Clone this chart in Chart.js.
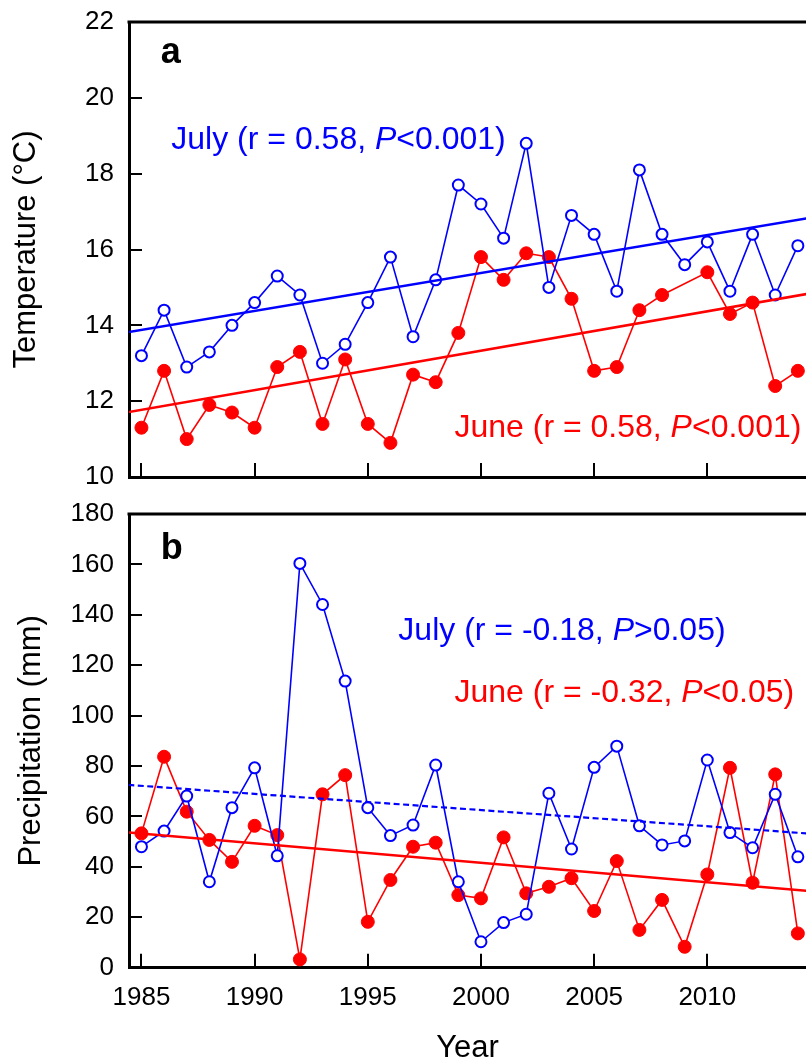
<!DOCTYPE html>
<html>
<head>
<meta charset="utf-8">
<script src="https://cdn.jsdelivr.net/npm/chart.js@4.4.0/dist/chart.umd.min.js"></script>
<style>
  html, body { margin: 0; padding: 0; background: #fff; }
  #wrap { position: relative; width: 806px; height: 1061px; overflow: hidden; }
  #chartA { position: absolute; left: 0; top: 0; }
  #chartB { position: absolute; left: 0; top: 490px; }
</style>
</head>
<body>
<div id="wrap">
  <canvas id="chartA" width="806" height="490"></canvas>
  <canvas id="chartB" width="806" height="571"></canvas>
</div>
<script>
// data
const years = [1985, 1986, 1987, 1988, 1989, 1990, 1991, 1992, 1993, 1994,
               1995, 1996, 1997, 1998, 1999, 2000, 2001, 2002, 2003, 2004,
               2005, 2006, 2007, 2008, 2009, 2010, 2011, 2012, 2013, 2014];

const tempJuly = [13.2, 14.4, 12.9, 13.3, 14.0, 14.6, 15.3, 14.8, 13.0, 13.5,
                  14.6, 15.8, 13.7, 15.2, 17.7, 17.2, 16.3, 18.8, 15.0, 16.9,
                  16.4, 14.9, 18.1, 16.4, 15.6, 16.2, 14.9, 16.4, 14.8, 16.1];
const tempJune = [11.3, 12.8, 11.0, 11.9, 11.7, 11.3, 12.9, 13.3, 11.4, 13.1,
                  11.4, 10.9, 12.7, 12.5, 13.8, 15.8, 15.2, 15.9, 15.8, 14.7,
                  12.8, 12.9, 14.4, 14.8, null, 15.4, 14.3, 14.6, 12.4, 12.8];

const precJuly = [48.0, 54.2, 68.1, 34.1, 63.5, 79.3, 44.4, 160.4, 144.1, 113.7,
                  63.5, 52.4, 56.6, 80.4, 34.1, 10.3, 17.9, 21.2, 69.2, 47.1,
                  79.5, 87.9, 56.3, 48.7, 50.3, 82.4, 53.6, 47.6, 68.8, 44.0];
const precJune = [53.3, 83.7, 61.9, 50.7, 42.0, 56.3, 52.6, 3.3, 68.8, 76.4,
                  18.2, 34.8, 48.0, 49.6, 28.8, 27.5, 51.7, 29.5, 32.1, 35.5,
                  22.5, 42.3, 15.0, 26.9, 8.3, 37.0, 79.3, 33.7, 76.7, 13.6];

// fitted trend lines (end points)
const trendYears = [1984, 2015];
const tempJulyTrend = [13.78, 16.88];
const tempJuneTrend = [11.67, 14.89];
const precJulyTrend = [72.8, 52.9];
const precJuneTrend = [54.0, 30.0];

// axis ticks
const yearTicks = [1985, 1990, 1995, 2000, 2005, 2010];
const tempTicks = [10, 12, 14, 16, 18, 20, 22];
const precTicks = [0, 20, 40, 60, 80, 100, 120, 140, 160, 180];

const BLUE = '#0000ff';
const RED = '#ff0000';
const FONT = '"Liberation Sans", Arial, Helvetica, sans-serif';

const pts = (xs, ys) => xs.map((x, i) => ({ x: x, y: ys[i] }));

// inward tick marks, top frame line and the text labels
function makeDecor(labels) {
    return {
        id: 'decor',
        beforeDatasetsDraw(chart) {
            const { ctx, chartArea: a, scales: { x, y } } = chart;
            ctx.save();
            ctx.strokeStyle = '#000';
            ctx.lineWidth = 2;
            ctx.beginPath();
            x.ticks.forEach(t => {
                const px = Math.round(x.getPixelForValue(t.value));
                ctx.moveTo(px, a.bottom);
                ctx.lineTo(px, a.bottom - 14);
            });
            y.ticks.forEach(t => {
                if (t.value === y.min || t.value === y.max) return;
                const py = Math.round(y.getPixelForValue(t.value));
                ctx.moveTo(a.left, py);
                ctx.lineTo(a.left + 13, py);
            });
            ctx.stroke();
            ctx.lineWidth = 3;
            ctx.beginPath();
            ctx.moveTo(a.left - 1.5, a.top);
            ctx.lineTo(a.right, a.top);
            ctx.stroke();
            ctx.restore();
        },
        afterDatasetsDraw(chart) {
            const { ctx, scales: { x, y } } = chart;
            ctx.save();
            ctx.textBaseline = 'alphabetic';
            ctx.textAlign = 'left';
            labels.forEach(l => {
                let px = x.getPixelForValue(l.x);
                const py = y.getPixelForValue(l.y);
                ctx.fillStyle = l.color;
                l.parts.forEach(p => {
                    ctx.font = (p[1] ? 'italic ' : '') + (l.bold ? 'bold ' : '') + l.size + 'px ' + FONT;
                    ctx.fillText(p[0], px, py);
                    px += ctx.measureText(p[0]).width;
                });
            });
            ctx.restore();
        }
    };
}

function axisX(showLabels, height) {
    return {
        type: 'linear',
        min: 1984.45,
        max: 2014.36,
        afterBuildTicks: s => { s.ticks = yearTicks.map(v => ({ value: v })); },
        afterFit: s => {
            s.height = height;
            s.paddingLeft = 0;
            s.paddingRight = 0;
        },
        grid: { display: true, drawOnChartArea: false, drawTicks: false },
        border: { display: true, color: '#000', width: 3 },
        ticks: {
            display: showLabels,
            color: '#000',
            padding: 15,
            maxRotation: 0,
            font: { family: FONT, size: 26 },
            callback: v => String(v)
        },
        title: {
            display: showLabels,
            text: 'Year',
            color: '#000',
            font: { family: FONT, size: 31, lineHeight: 1 },
            padding: { top: 0, bottom: -3 }
        }
    };
}

function axisY(min, max, tickList, title, titlePad) {
    return {
        type: 'linear',
        min: min,
        max: max,
        afterBuildTicks: s => { s.ticks = tickList.map(v => ({ value: v })); },
        afterFit: s => {
            s.width = 129;
            s.paddingTop = 0;
            s.paddingBottom = 0;
        },
        grid: { display: true, drawOnChartArea: false, drawTicks: false },
        border: { display: true, color: '#000', width: 3 },
        ticks: {
            color: '#000',
            padding: 15,
            font: { family: FONT, size: 26 },
            callback: v => String(v)
        },
        title: {
            display: true,
            text: title,
            color: '#000',
            font: { family: FONT, size: 31 },
            padding: { top: titlePad, bottom: 0 }
        }
    };
}

function seriesSets(julyVals, juneVals, julyTrend, juneTrend, julyDash) {
    return [
        {
            data: pts(trendYears, julyTrend),
            borderColor: BLUE, borderWidth: julyDash ? 2.2 : 2.5,
            borderDash: julyDash ? [6, 3.5] : [],
            pointRadius: 0, clip: 0
        },
        {
            data: pts(trendYears, juneTrend),
            borderColor: RED, borderWidth: 2.5,
            pointRadius: 0, clip: 0
        },
        {
            label: 'July',
            data: pts(years, julyVals),
            borderColor: BLUE, borderWidth: 1.6,
            pointRadius: 5.5, pointBorderWidth: 2,
            pointBorderColor: BLUE, pointBackgroundColor: '#fff',
            spanGaps: true
        },
        {
            label: 'June',
            data: pts(years, juneVals),
            borderColor: RED, borderWidth: 1.6,
            pointRadius: 6.5, pointBorderWidth: 1,
            pointBorderColor: RED, pointBackgroundColor: RED,
            spanGaps: true
        }
    ];
}

const commonOpts = {
    responsive: false,
    animation: false,
    devicePixelRatio: 1,
    plugins: { legend: { display: false }, tooltip: { enabled: false } },
    elements: { line: { tension: 0 } }
};

new Chart(document.getElementById('chartA'), {
    type: 'line',
    data: { datasets: seriesSets(tempJuly, tempJune, tempJulyTrend, tempJuneTrend, false) },
    options: Object.assign({}, commonOpts, {
        layout: { autoPadding: false, padding: { top: 22, right: 0, bottom: 0, left: 0 } },
        scales: {
            x: axisX(false, 13),
            y: axisY(10, 22, tempTicks, 'Temperature (°C)', 8)
        }
    }),
    plugins: [makeDecor([
        { x: 1985.85, y: 20.92, color: '#000', size: 36, bold: true, parts: [['a', false]] },
        { x: 1986.32, y: 18.64, color: BLUE, size: 32, parts: [['July (r = 0.58, ', false], ['P', true], ['<0.001)', false]] },
        { x: 1998.83, y: 11.06, color: RED, size: 32, parts: [['June (r = 0.58, ', false], ['P', true], ['<0.001)', false]] }
    ])]
});

new Chart(document.getElementById('chartB'), {
    type: 'line',
    data: { datasets: seriesSets(precJuly, precJune, precJulyTrend, precJuneTrend, true) },
    options: Object.assign({}, commonOpts, {
        layout: { autoPadding: false, padding: { top: 24, right: 0, bottom: 0, left: 0 } },
        scales: {
            x: axisX(true, 93.3),
            y: axisY(0, 180, precTicks, 'Precipitation (mm)', 13)
        }
    }),
    plugins: [makeDecor([
        { x: 1985.85, y: 162.1, color: '#000', size: 36, bold: true, parts: [['b', false]] },
        { x: 1996.35, y: 130.0, color: BLUE, size: 32, parts: [['July (r = -0.18, ', false], ['P', true], ['>0.05)', false]] },
        { x: 1998.83, y: 105.5, color: RED, size: 32, parts: [['June (r = -0.32, ', false], ['P', true], ['<0.05)', false]] }
    ])]
});
</script>
</body>
</html>
